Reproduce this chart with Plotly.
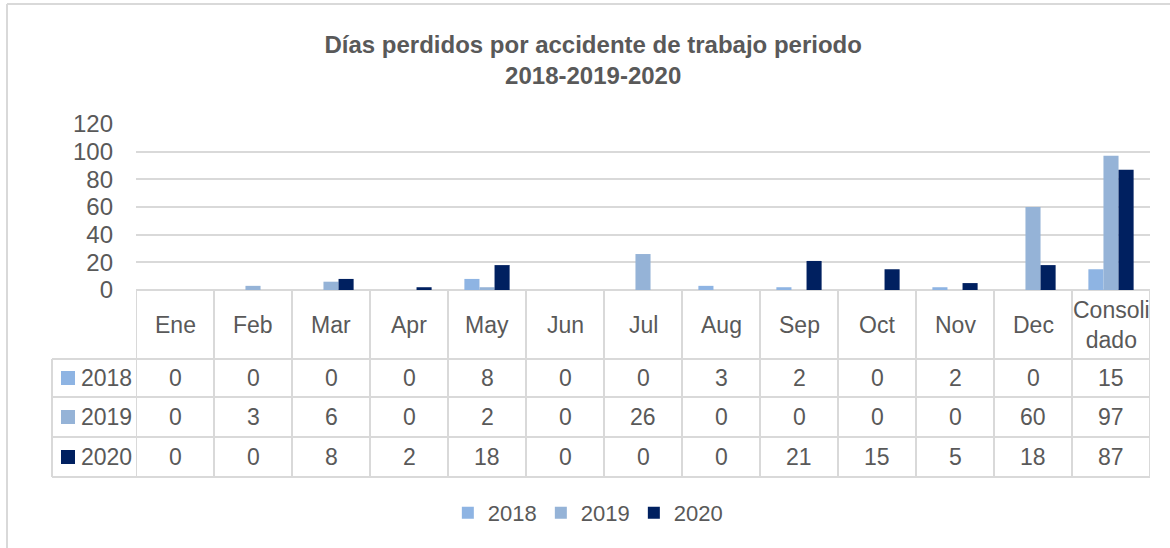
import plotly.graph_objects as go

categories = ["Ene", "Feb", "Mar", "Apr", "May", "Jun", "Jul", "Aug", "Sep", "Oct", "Nov", "Dec", "Consolidado"]
header_labels = ["Ene", "Feb", "Mar", "Apr", "May", "Jun", "Jul", "Aug", "Sep", "Oct", "Nov", "Dec", "Consoli<br>dado"]
series_names = ["2018", "2019", "2020"]
values_2018 = [0, 0, 0, 0, 8, 0, 0, 3, 2, 0, 2, 0, 15]
values_2019 = [0, 3, 6, 0, 2, 0, 26, 0, 0, 0, 0, 60, 97]
values_2020 = [0, 0, 8, 2, 18, 0, 0, 0, 21, 15, 5, 18, 87]
colors = ["#8EB4E3", "#95B3D7", "#002060"]
y_ticks = [0, 20, 40, 60, 80, 100, 120]

W, H = 1170, 548
FONT = "Liberation Sans Narrow, Arial Narrow, Liberation Sans, Arial, sans-serif"
TXT = "#595959"
GRID = "#d9d9d9"

def px(x):
    return x / W

def py(y):
    return 1 - y / H

series = [values_2018, values_2019, values_2020]

fig = go.Figure()
for name, vals, col in zip(series_names, series, colors):
    fig.add_trace(go.Bar(x=categories, y=vals, name=name, marker=dict(color=col, line=dict(width=0))))

row_top = 290
row_lines = [359, 397, 437, 477]
row_centers = [325, 378, 417, 457]
left_x = 52

shapes = []
n = len(categories)
for i in range(n + 1):
    shapes.append(dict(type="line", xref="x", yref="paper", x0=i - 0.5, x1=i - 0.5,
                       y0=py(row_top), y1=py(row_lines[-1]), line=dict(color=GRID, width=2)))
for yl in row_lines:
    shapes.append(dict(type="line", xref="paper", yref="paper", x0=px(left_x), x1=px(1150),
                       y0=py(yl), y1=py(yl), line=dict(color=GRID, width=2)))
shapes.append(dict(type="line", xref="paper", yref="paper", x0=px(left_x), x1=px(left_x),
                   y0=py(row_lines[0]), y1=py(row_lines[-1]), line=dict(color=GRID, width=2)))
# outer frame (top and left edges visible)
shapes.append(dict(type="line", xref="paper", yref="paper", x0=px(7), x1=1,
                   y0=py(4), y1=py(4), line=dict(color=GRID, width=2)))
shapes.append(dict(type="line", xref="paper", yref="paper", x0=px(7), x1=px(7),
                   y0=py(4), y1=0, line=dict(color=GRID, width=2)))

annotations = []
for cat, lab in zip(categories, header_labels):
    annotations.append(dict(x=cat, y=py(row_centers[0]), xref="x", yref="paper", text=lab,
                            showarrow=False, font=dict(family=FONT, size=23, color=TXT),
                            xanchor="center", yanchor="middle"))
for r, (name, vals, col) in enumerate(zip(series_names, series, colors)):
    yc = py(row_centers[r + 1])
    for cat, v in zip(categories, vals):
        annotations.append(dict(x=cat, y=yc, xref="x", yref="paper", text=str(v),
                                showarrow=False, font=dict(family=FONT, size=23, color=TXT),
                                xanchor="center", yanchor="middle"))
    shapes.append(dict(type="rect", xref="paper", yref="paper", x0=px(61), x1=px(75),
                       y0=py(row_centers[r + 1] + 7), y1=py(row_centers[r + 1] - 7),
                       fillcolor=col, line=dict(width=0)))
    annotations.append(dict(x=px(79), y=yc, xref="paper", yref="paper", text=name,
                            showarrow=False, font=dict(family=FONT, size=23, color=TXT),
                            xanchor="left", yanchor="middle"))

fig.update_layout(
    width=W, height=H,
    margin=dict(l=0, r=0, t=0, b=0, autoexpand=False),
    paper_bgcolor="white", plot_bgcolor="white",
    title=dict(text="<b>Días perdidos por accidente de trabajo periodo<br>2018-2019-2020</b>",
               x=0.507, xanchor="center", y=py(53), yanchor="top",
               font=dict(family=FONT, size=24, color=TXT)),
    barmode="group", bargap=0.42, bargroupgap=0,
    xaxis=dict(domain=[px(136), px(1150)], showticklabels=False, ticks="",
               showgrid=False, zeroline=False, showline=False, automargin=False,
               range=[-0.5, n - 0.5], fixedrange=True),
    yaxis=dict(domain=[py(290), py(124)], range=[0, 120], tickvals=y_ticks,
               showgrid=True, gridcolor=GRID, gridwidth=2, zeroline=True,
               zerolinecolor=GRID, zerolinewidth=2, ticks="", ticklabelstandoff=22,
               automargin=False, fixedrange=True,
               tickfont=dict(family=FONT, size=24, color=TXT), showline=False),
    legend=dict(orientation="h", x=0.502, xanchor="center", y=py(513), yanchor="middle",
                font=dict(family=FONT, size=22, color=TXT), itemwidth=30,
                entrywidth=48, entrywidthmode="pixels", traceorder="normal"),
    shapes=shapes, annotations=annotations,
    showlegend=True,
)

fig.write_html("out.html", config={"displayModeBar": False},
               post_script="document.body.style.margin='0px';")
